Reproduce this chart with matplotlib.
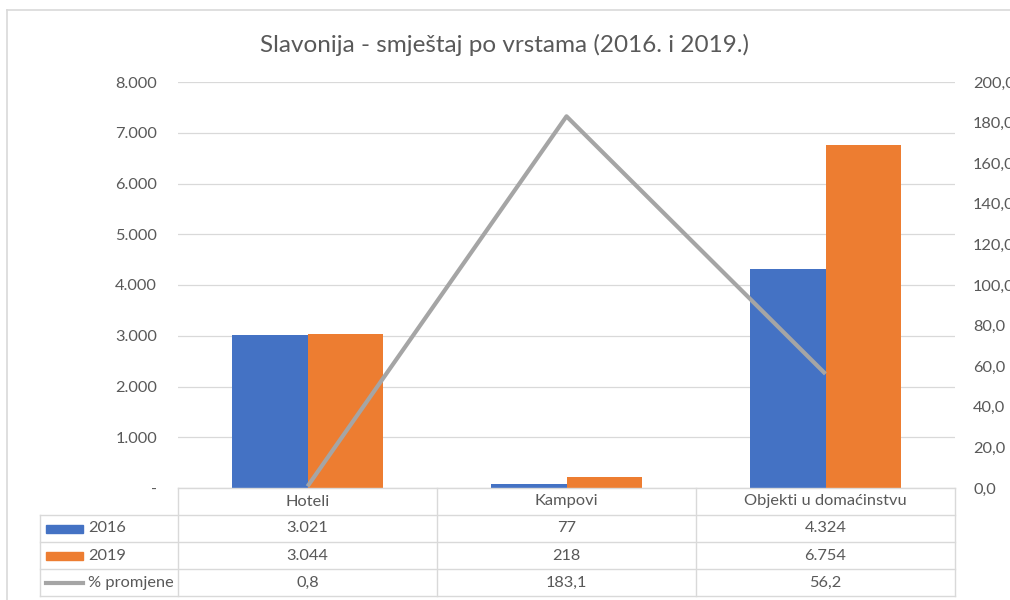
import numpy as np
import matplotlib
matplotlib.use('Agg')
import matplotlib.pyplot as plt
from matplotlib.ticker import FuncFormatter

plt.rcParams['font.family'] = ['Lato', 'DejaVu Sans']

title = 'Slavonija - smještaj po vrstama (2016. i 2019.)'
categories = ['Hoteli', 'Kampovi', 'Objekti u domaćinstvu']
v2016 = [3021, 77, 4324]
v2019 = [3044, 218, 6754]
pct = [0.8, 183.1, 56.2]
series_names = ['2016', '2019', '% promjene']

c_blue = '#4472C4'
c_orange = '#ED7D31'
c_gray = '#A5A5A5'
c_text = '#595959'
c_grid = '#D9D9D9'
fs = 11.8


def thousands(v, pos):
    if v == 0:
        return '-'
    return '{:,.0f}'.format(v).replace(',', '.')


def pct_fmt(v):
    return '{:.1f}'.format(v).replace('.', ',')


fig = plt.figure(figsize=(10.10, 6.00), dpi=100)
W, H = 1010.0, 600.0
x0, x1, ytop, ybot = 178, 955, 82, 488
ax = fig.add_axes([x0 / W, 1 - ybot / H, (x1 - x0) / W, (ybot - ytop) / H])

n = len(categories)
xc = np.arange(n) + 0.5
bw = 0.29
ax.bar(xc - bw / 2, v2016, bw, color=c_blue, zorder=3)
ax.bar(xc + bw / 2, v2019, bw, color=c_orange, zorder=3)
ax.set_xlim(0, n)
ax.set_ylim(0, 8000)
ax.set_yticks(np.arange(0, 8001, 1000))
ax.yaxis.set_major_formatter(FuncFormatter(thousands))
ax.grid(axis='y', color=c_grid, linewidth=0.9, zorder=0)
ax.set_xticks([])
for s in ax.spines.values():
    s.set_visible(False)
ax.tick_params(axis='y', length=0, pad=15, labelsize=fs, labelcolor=c_text)

ax2 = ax.twinx()
ax2.plot(xc, pct, color=c_gray, linewidth=3, zorder=4, solid_capstyle='butt')
ax2.set_ylim(0, 200)
ax2.set_yticks(np.arange(0, 201, 20))
ax2.set_yticklabels([pct_fmt(v) for v in np.arange(0, 201, 20)])
ax2.tick_params(axis='y', length=0, pad=13, labelsize=fs, labelcolor=c_text)
for s in ax2.spines.values():
    s.set_visible(False)

fig.text(0.5, 1 - 45 / H, title, ha='center', va='center', fontsize=17.5, color=c_text)

# data table
tx0 = 40
row_h = 27
rows_y = [ybot + row_h * i for i in range(5)]
colw = (x1 - x0) / n
line_kw = dict(color=c_grid, linewidth=1.0)


def fx(px):
    return px / W


def fy(py):
    return 1 - py / H


# horizontal lines
fig.add_artist(plt.Line2D([fx(x0), fx(x1)], [fy(rows_y[0])] * 2, **line_kw))
for yy in rows_y[1:]:
    fig.add_artist(plt.Line2D([fx(tx0), fx(x1)], [fy(yy)] * 2, **line_kw))
# vertical lines
for i in range(n + 1):
    xx = x0 + colw * i
    fig.add_artist(plt.Line2D([fx(xx)] * 2, [fy(rows_y[0]), fy(rows_y[4])], **line_kw))
fig.add_artist(plt.Line2D([fx(tx0)] * 2, [fy(rows_y[1]), fy(rows_y[4])], **line_kw))

for i, cat in enumerate(categories):
    fig.text(fx(x0 + colw * (i + 0.5)), fy(rows_y[0] + row_h / 2), cat,
             ha='center', va='center', fontsize=fs, color=c_text)

table_vals = [[thousands(v, 0) for v in v2016],
              [thousands(v, 0) for v in v2019],
              [pct_fmt(v) for v in pct]]
for r, vals in enumerate(table_vals):
    yc = rows_y[r + 1] + row_h / 2
    for i, s in enumerate(vals):
        fig.text(fx(x0 + colw * (i + 0.5)), fy(yc), s,
                 ha='center', va='center', fontsize=fs, color=c_text)

# legend keys in table
keys = [c_blue, c_orange, c_gray]
for r, (name, col) in enumerate(zip(series_names, keys)):
    yc = rows_y[r + 1] + row_h / 2
    if r < 2:
        fig.add_artist(plt.Rectangle((fx(46), fy(yc + 4)), fx(37), 8 / H,
                                     color=col, transform=fig.transFigure))
    else:
        fig.add_artist(plt.Line2D([fx(46), fx(83)], [fy(yc)] * 2, color=col,
                                  linewidth=3))
    fig.text(fx(88), fy(yc), name, ha='left', va='center', fontsize=fs, color=c_text)

# chart border
fig.add_artist(plt.Line2D([fx(7)] * 2, [0, fy(10)], color=c_grid, linewidth=1.2))
fig.add_artist(plt.Line2D([fx(7), 1], [fy(10)] * 2, color=c_grid, linewidth=1.2))

fig.savefig('out.png', dpi=100, facecolor='white')
